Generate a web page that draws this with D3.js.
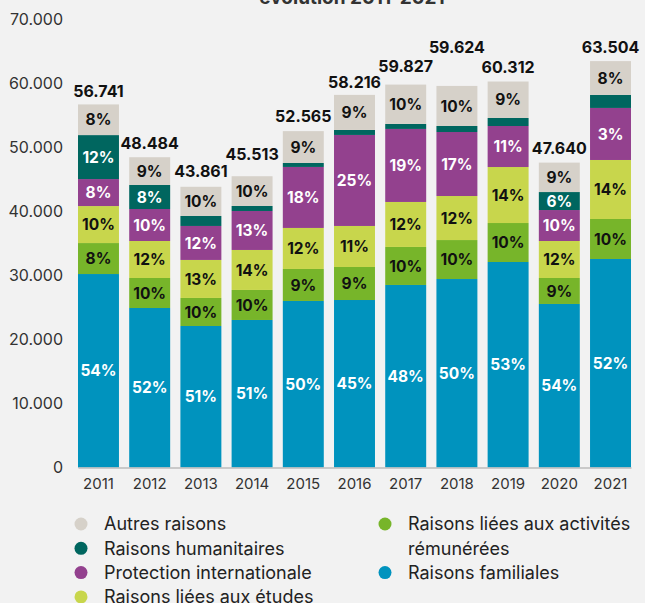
<!DOCTYPE html>
<html>
<head>
<meta charset="utf-8">
<script src="https://cdn.jsdelivr.net/npm/d3@7"></script>
<style>
  body { margin: 0; background: #f2f2f2; }
  svg { display: block; font-family: "Inter", "Lato", sans-serif; }
</style>
</head>
<body>
<div id="chart"></div>
<script>
// data
const years = ["2011", "2012", "2013", "2014", "2015", "2016", "2017", "2018", "2019", "2020", "2021"];
const totals = [56741, 48484, 43861, 45513, 52565, 58216, 59827, 59624, 60312, 47640, 63504];

const familiales   = [30230, 24920, 22110, 23050, 26020, 26170, 28520, 29450, 32110, 25550, 32580];
const activites    = [4840, 4690, 4380, 4690, 5000, 5160, 5940, 6090, 6090, 4060, 6250];
const etudes       = [5780, 5780, 5940, 6250, 6410, 6410, 7030, 6880, 8750, 5780, 9220];
const protection   = [4220, 5000, 5310, 6090, 9530, 14220, 11410, 10000, 6410, 4840, 8130];
const humanitaires = [6870, 3750, 1560, 780, 620, 780, 780, 940, 1250, 2810, 2030];
const autres       = [4790, 4340, 4560, 4650, 4980, 5480, 6150, 6260, 5700, 4600, 5290];

// percentage labels as printed (null = no label)
const familialesLbl   = ["54%", "52%", "51%", "51%", "50%", "45%", "48%", "50%", "53%", "54%", "52%"];
const activitesLbl    = ["8%", "10%", "10%", "10%", "9%", "9%", "10%", "10%", "10%", "9%", "10%"];
const etudesLbl       = ["10%", "12%", "13%", "14%", "12%", "11%", "12%", "12%", "14%", "12%", "14%"];
const protectionLbl   = ["8%", "10%", "12%", "13%", "18%", "25%", "19%", "17%", "11%", "10%", "3%"];
const humanitairesLbl = ["12%", "8%", null, null, null, null, null, null, null, "6%", null];
const autresLbl       = ["8%", "9%", "10%", "10%", "9%", "9%", "10%", "10%", "9%", "9%", "8%"];

const yTicks = [0, 10000, 20000, 30000, 40000, 50000, 60000, 70000];

// series, bottom to top
const series = [
  { key: "familiales", name: "Raisons familiales", values: familiales, labels: familialesLbl, color: "#0093be", text: "#fff" },
  { key: "activites", name: "Raisons liées aux activités rémunérées", values: activites, labels: activitesLbl, color: "#77b52a", text: "#111" },
  { key: "etudes", name: "Raisons liées aux études", values: etudes, labels: etudesLbl, color: "#c8d64c", text: "#111" },
  { key: "protection", name: "Protection internationale", values: protection, labels: protectionLbl, color: "#93418e", text: "#fff" },
  { key: "humanitaires", name: "Raisons humanitaires", values: humanitaires, labels: humanitairesLbl, color: "#00665f", text: "#fff" },
  { key: "autres", name: "Autres raisons", values: autres, labels: autresLbl, color: "#d6d1c9", text: "#111" }
];

// how far the total sits above each bar (layout only)
const totalLift = [7, 8, 10, 16, 9, 7, 13, 33, 9, 9, 8];

const width = 645, height = 603;
const svg = d3.select("#chart").append("svg")
  .attr("width", width)
  .attr("height", height);

const x = d3.scaleBand()
  .domain(years)
  .range([78, 631])
  .paddingInner(0.2)
  .paddingOuter(0);

const y = d3.scaleLinear()
  .domain([0, 70000])
  .range([467.5, 19.5]);

const locale = d3.formatLocale({ decimal: ",", thousands: ".", grouping: [3], currency: ["", "€"] });
const fmt = locale.format(",d");

// title (cut off at the top in the original)
svg.append("text")
  .attr("x", 352)
  .attr("y", 4)
  .attr("text-anchor", "middle")
  .attr("font-size", 19)
  .attr("font-weight", 700)
  .attr("fill", "#333")
  .text("évolution 2011-2021");

// y axis: labels only
const yAxis = svg.append("g")
  .attr("transform", "translate(63,0)")
  .call(d3.axisLeft(y).tickValues(yTicks).tickFormat(fmt).tickSize(0).tickPadding(0));
yAxis.select(".domain").remove();
yAxis.selectAll("text")
  .attr("font-family", "Inter, sans-serif")
  .attr("font-size", 16)
  .attr("fill", "#333");

// stack
const rows = years.map((yr, i) => {
  const r = { year: yr };
  series.forEach(s => { r[s.key] = s.values[i]; });
  return r;
});
const stacked = d3.stack().keys(series.map(s => s.key))(rows);

stacked.forEach((layer, si) => {
  const s = series[si];
  const g = svg.append("g");
  g.selectAll("rect")
    .data(layer)
    .enter()
    .append("rect")
    .attr("x", d => x(d.data.year))
    .attr("y", d => y(d[1]))
    .attr("width", x.bandwidth())
    .attr("height", d => y(d[0]) - y(d[1]))
    .attr("fill", s.color);

  g.selectAll("text")
    .data(layer.filter((d, i) => s.labels[i]))
    .enter()
    .append("text")
    .attr("x", d => x(d.data.year) + x.bandwidth() / 2)
    .attr("y", d => (y(d[0]) + y(d[1])) / 2)
    .attr("dy", "0.36em")
    .attr("text-anchor", "middle")
    .attr("font-size", 15.5)
    .attr("font-weight", 700)
    .attr("fill", s.text)
    .text(d => s.labels[years.indexOf(d.data.year)]);
});

// x axis
const xAxis = svg.append("g")
  .attr("transform", "translate(0,467.5)")
  .call(d3.axisBottom(x).tickSize(0).tickPadding(11));
xAxis.select(".domain").attr("stroke", "#bbb").attr("stroke-width", 1.5);
xAxis.selectAll("text")
  .attr("font-family", "Inter, sans-serif")
  .attr("font-size", 15)
  .attr("fill", "#333");

// totals above bars
svg.selectAll(".total")
  .data(years)
  .enter()
  .append("text")
  .attr("class", "total")
  .attr("x", d => x(d) + x.bandwidth() / 2)
  .attr("y", (d, i) => y(totals[i]) - totalLift[i])
  .attr("text-anchor", "middle")
  .attr("font-size", 16)
  .attr("font-weight", 700)
  .attr("fill", "#111")
  .text((d, i) => fmt(totals[i]));

// legend
const legendCols = [
  { x: 81, items: [["autres"], ["humanitaires"], ["protection"], ["etudes"]] },
  { x: 385, items: [["activites", "Raisons liées aux activités", "rémunérées"], ["familiales"]] }
];
const legendTop = 524, legendStep = 24.3;

legendCols.forEach(col => {
  let row = 0;
  col.items.forEach(item => {
    const s = series.find(d => d.key === item[0]);
    const lines = item.length > 1 ? item.slice(1) : [s.name];
    const cy = legendTop + row * legendStep;
    svg.append("circle")
      .attr("cx", col.x)
      .attr("cy", cy)
      .attr("r", 6.5)
      .attr("fill", s.color);
    lines.forEach((t, li) => {
      svg.append("text")
        .attr("x", col.x + 23)
        .attr("y", cy + li * legendStep)
        .attr("dy", "0.35em")
        .attr("font-size", 18)
        .attr("fill", "#222")
        .text(t);
    });
    row += lines.length;
  });
});
</script>
</body>
</html>
